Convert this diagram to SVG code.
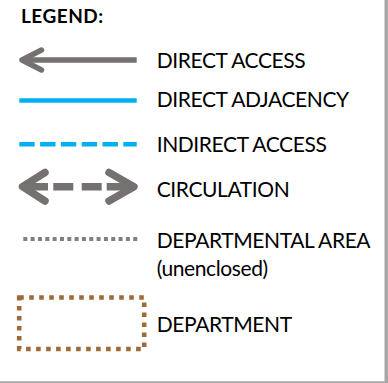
<svg xmlns="http://www.w3.org/2000/svg" width="388" height="383" viewBox="0 0 388 383">
<style>
.t{font-family:Lato,"Liberation Sans",sans-serif;font-size:21px;letter-spacing:-0.4px;fill:#000}
.h{font-family:Lato,"Liberation Sans",sans-serif;font-size:19px;letter-spacing:0.5px;font-weight:bold;fill:#000}
.gray{stroke:#767171;fill:none}
</style>
<rect x="0" y="0" width="388" height="383" fill="#fff"/>
<rect x="384.5" y="0" width="3.5" height="383" fill="#a6a6a6"/>
<rect x="0" y="381.3" width="388" height="1.7" fill="#a6a6a6"/>
<g id="title"><text class="h" x="21" y="23">LEGEND:</text></g>
<g id="connectors">
<g id="direct-access-sym">
<line class="gray" x1="23" y1="60" x2="136.7" y2="60" stroke-width="5.5"/>
<polyline class="gray" points="41.5,50 22,60 41.5,70" stroke-width="5.5" stroke-linecap="round" stroke-linejoin="round"/>
</g>
<line id="direct-adjacency-sym" x1="19.3" y1="100.5" x2="136.7" y2="100.5" stroke="#00b0f0" stroke-width="4.4"/>
<line id="indirect-access-sym" x1="19.3" y1="144.2" x2="136.7" y2="144.2" stroke="#00b0f0" stroke-width="4.6" stroke-dasharray="15.4 5.4"/>
<g id="circulation-sym">
<path class="gray" d="M23,186.7H48M53.3,186.7H73.3M81.7,186.7H101.7M106.7,186.7H133" stroke-width="7.5"/>
<polyline class="gray" points="45,172.5 22.5,186.7 45,201" stroke-width="7.5" stroke-linecap="round" stroke-linejoin="round"/>
<polyline class="gray" points="109,172.5 134,186.7 109,201" stroke-width="7.5" stroke-linecap="round" stroke-linejoin="round"/>
</g>
<line id="departmental-area-sym" x1="23.3" y1="239" x2="140" y2="239" stroke="#808080" stroke-width="3.8" stroke-dasharray="4 3.33"/>
<rect id="department-sym" x="19.2" y="297.5" width="125" height="51.5" fill="none" stroke="#9e6a38" stroke-width="4.6" stroke-dasharray="4.6 5.4"/>
</g>
<g id="label-direct-access"><text class="t" x="156.7" y="68">DIRECT ACCESS</text></g>
<g id="label-direct-adjacency"><text class="t" x="156.7" y="106.7">DIRECT ADJACENCY</text></g>
<g id="label-indirect-access"><text class="t" x="156.7" y="151.7">INDIRECT ACCESS</text></g>
<g id="label-circulation"><text class="t" x="156.7" y="196.7">CIRCULATION</text></g>
<g id="label-departmental-area"><text class="t" x="156.7" y="248.3">DEPARTMENTAL AREA</text><text class="t" x="156.7" y="276">(unenclosed)</text></g>
<g id="label-department"><text class="t" x="156.7" y="331.7">DEPARTMENT</text></g>
</svg>
